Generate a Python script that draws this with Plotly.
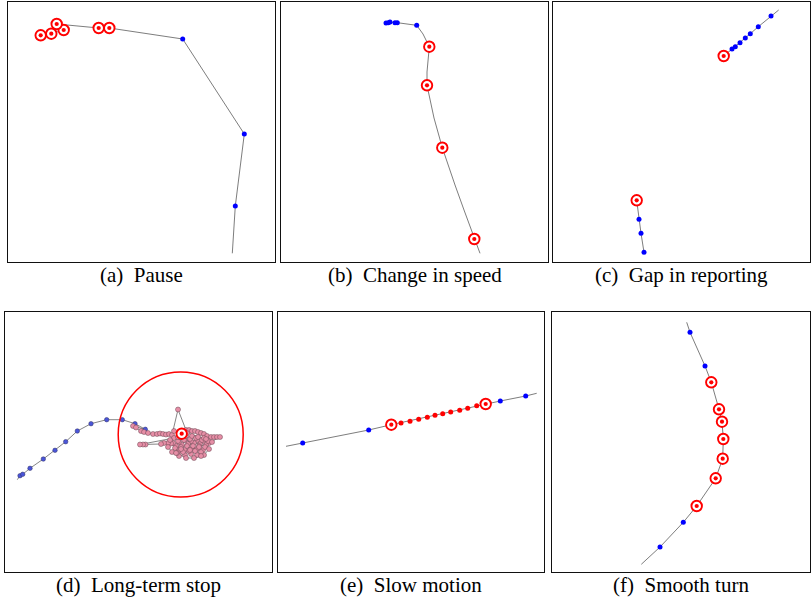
import plotly.graph_objects as go

W, H = 811, 604

# Panel boxes in pixel coordinates: (left, right, top, bottom)
panel_boxes = [
    (8, 275, 2, 262), (281, 548, 2, 262), (553, 809.5, 2, 262),
    (5, 272, 312, 572), (278, 544, 312, 572), (552, 809.5, 312, 572),
]
captions = ["(a)\u00a0 Pause", "(b)\u00a0 Change in speed", "(c)\u00a0 Gap in reporting",
            "(d)\u00a0 Long-term stop", "(e)\u00a0 Slow motion", "(f)\u00a0 Smooth turn"]

# ---- (a) Pause
a_track_x = [40.7, 51.3, 63.7, 56.7, 98.7, 109.3, 182.7, 244.3, 235.3, 232.3]
a_track_y = [35.3, 33.7, 30, 24, 28, 28, 39, 134, 206, 253.3]
a_norm_x = [182.7, 244.3, 235.3]
a_norm_y = [39, 134, 206]
a_anom_x = [40.7, 51.3, 63.7, 56.7, 98.7, 109.3]
a_anom_y = [35.3, 33.7, 30, 24, 28, 28]

# ---- (b) Change in speed
b_track_x = [386, 388.3, 390, 395, 397.3, 416.7, 423, 429.3, 428, 427, 427, 430, 434, 442.3, 448, 455, 464, 474.3, 480]
b_track_y = [23, 22.7, 22, 22.7, 22.7, 25.3, 34, 46.7, 60, 72, 85.3, 100, 118, 147.7, 165, 185, 210, 239, 253.3]
b_norm_x = [386, 388.3, 390, 395, 397.3, 416.7]
b_norm_y = [23, 22.7, 22, 22.7, 22.7, 25.3]
b_anom_x = [429.3, 427, 442.3, 474.3]
b_anom_y = [46.7, 85.3, 147.7, 239]

# ---- (c) Gap in reporting
c_track_x = [778.7, 771, 758.3, 750.3, 745.3, 740, 735.3, 732, 723.7, None, 636.7, 639, 641, 644]
c_track_y = [10, 16, 26.7, 33.7, 38, 42.7, 46.7, 49, 56, None, 200.3, 219.3, 233.3, 252.3]
c_norm_x = [771, 758.3, 750.3, 745.3, 740, 735.3, 732, 639, 641, 644]
c_norm_y = [16, 26.7, 33.7, 38, 42.7, 46.7, 49, 219.3, 233.3, 252.3]
c_anom_x = [723.7, 636.7]
c_anom_y = [56, 200.3]

# ---- (d) Long-term stop
d_norm_x = [20, 22.7, 30, 43.3, 55, 65.7, 77.3, 91, 106.7, 122.3, 135, 145.3]
d_norm_y = [475.7, 474.3, 468.3, 459, 450.3, 441.7, 431, 423.7, 419.7, 419.7, 423.7, 429.3]
d_stop_x = [133, 136, 141, 144, 148, 153, 157, 160, 163, 166, 169, 172, 178, 186, 189, 192, 195,
            198, 201, 204, 207, 211, 214, 217, 220, 209, 206, 203, 200, 197, 194, 191, 188, 185,
            182, 179, 176, 173, 171, 168, 164, 161, 145.5, 143, 140, 174, 178, 180, 184, 186, 190,
            192, 196, 198, 202, 204, 208, 175, 179, 181, 185, 187, 191, 193, 197, 199, 203, 205,
            209, 204, 201, 197, 195, 191, 189, 185, 183, 179, 177, 186, 194, 201, 182, 178, 170,
            168, 172, 176, 181, 190, 199, 212, 206, 187, 174]
d_stop_y = [426, 427.5, 431, 432, 433, 434, 434, 433.5, 434, 434.5, 434, 435, 409.5, 430, 430, 431,
            431, 432, 433, 434, 436, 437, 437, 437, 437, 443, 445, 441, 444, 440, 443, 441, 444, 440,
            445, 442, 446, 443, 443.5, 443, 443, 444, 444.5, 444.5, 444.5, 438, 441, 437, 440, 436,
            439, 436, 438, 437, 440, 438, 441, 448, 451, 447, 450, 446, 449, 446, 449, 446, 450, 447,
            449, 455, 452, 455, 451, 454, 451, 455, 452, 456, 453, 458, 458, 456, 434, 437, 440,
            447, 452, 453, 449, 450, 447, 442, 439, 433, 431]
d_anom_x = [181.7]
d_anom_y = [433.7]
stop_center = (180.7, 434.5)
stop_radius = 62.5

# ---- (e) Slow motion
e_track_x = [286, 302.7, 368.7, 391.3, 485.7, 500.3, 525.7, 536.7]
e_track_y = [446.3, 443, 430, 424.7, 404, 401, 396, 393.3]
e_norm_x = [302.7, 368.7, 500.3, 525.7]
e_norm_y = [443, 430, 401, 396]
e_slow_x = [401, 410, 418.7, 427.3, 435, 442.7, 450.7, 459.7, 467.7, 476.7]
e_slow_y = [423, 421.3, 419.3, 417.3, 415.3, 413.7, 412, 410.3, 408.3, 405.7]
e_anom_x = [391.3, 485.7]
e_anom_y = [424.7, 404]

# ---- (f) Smooth turn
f_track_x = [686.7, 690, 705, 711.3, 719, 722, 723.3, 722.7, 715.7, 696.7, 683.3, 660, 641.3]
f_track_y = [322.3, 332.3, 366, 382.3, 409.3, 421.7, 439, 458.7, 478.3, 506, 522.3, 547, 564.3]
f_norm_x = [690, 705, 683.3, 660]
f_norm_y = [332.3, 366, 522.3, 547]
f_anom_x = [711.3, 719, 722, 723.3, 722.7, 715.7, 696.7]
f_anom_y = [382.3, 409.3, 421.7, 439, 458.7, 478.3, 506]

fig = go.Figure()
LINE = dict(color="#6e6e6e", width=0.9)


def ax(i):
    return ("x" if i == 0 else f"x{i+1}"), ("y" if i == 0 else f"y{i+1}")


def add_line(i, xs, ys, color=LINE["color"], width=LINE["width"]):
    xa, ya = ax(i)
    fig.add_trace(go.Scatter(x=xs, y=ys, mode="lines", line=dict(color=color, width=width),
                             xaxis=xa, yaxis=ya, hoverinfo="skip", connectgaps=False))


def add_dots(i, xs, ys, color="#0000ff", size=5, outline=None, ow=0.5):
    xa, ya = ax(i)
    mk = dict(color=color, size=size)
    if outline:
        mk["line"] = dict(color=outline, width=ow)
    else:
        mk["line"] = dict(width=0)
    fig.add_trace(go.Scatter(x=xs, y=ys, mode="markers", marker=mk, xaxis=xa, yaxis=ya))


def add_bull(i, xs, ys):
    xa, ya = ax(i)
    fig.add_trace(go.Scatter(x=xs, y=ys, mode="markers", xaxis=xa, yaxis=ya,
                             marker=dict(color="white", size=10.5, line=dict(color="#ff0000", width=1.9))))
    fig.add_trace(go.Scatter(x=xs, y=ys, mode="markers", xaxis=xa, yaxis=ya,
                             marker=dict(color="#ff0000", size=4.2, line=dict(width=0))))


# (a)
add_line(0, a_track_x, a_track_y)
add_dots(0, a_norm_x, a_norm_y)
add_bull(0, a_anom_x, a_anom_y)
# (b)
add_line(1, b_track_x, b_track_y)
add_dots(1, b_norm_x, b_norm_y)
add_bull(1, b_anom_x, b_anom_y)
# (c)
add_line(2, c_track_x, c_track_y)
add_dots(2, c_norm_x, c_norm_y)
add_bull(2, c_anom_x, c_anom_y)
# (d)
add_line(3, [17.3] + d_norm_x + d_stop_x, [479.7] + d_norm_y + d_stop_y, color="#666666", width=0.8)
add_dots(3, d_norm_x, d_norm_y, color="#4a55d8", size=4.5, outline="#333366")
add_dots(3, d_stop_x, d_stop_y, color="#e68ea6", size=5, outline="#6a4450", ow=0.5)
add_bull(3, d_anom_x, d_anom_y)
# (e)
add_line(4, e_track_x, e_track_y)
add_dots(4, e_norm_x, e_norm_y)
add_dots(4, e_slow_x, e_slow_y, color="#ff0000", size=5)
add_bull(4, e_anom_x, e_anom_y)
# (f)
add_line(5, f_track_x, f_track_y)
add_dots(5, f_norm_x, f_norm_y)
add_bull(5, f_anom_x, f_anom_y)

layout = dict(width=W, height=H, margin=dict(l=0, r=0, t=0, b=0), showlegend=False,
              plot_bgcolor="white", paper_bgcolor="white")
annotations = []
for i, (l, r, t, b) in enumerate(panel_boxes):
    xk = "xaxis" if i == 0 else f"xaxis{i+1}"
    yk = "yaxis" if i == 0 else f"yaxis{i+1}"
    common = dict(showline=True, mirror=True, linecolor="#111111", linewidth=1.2,
                  showgrid=False, zeroline=False, showticklabels=False, ticks="", fixedrange=True)
    layout[xk] = dict(domain=[l / W, r / W], range=[l, r], anchor=ax(i)[1], **common)
    layout[yk] = dict(domain=[1 - b / H, 1 - t / H], range=[b, t], anchor=ax(i)[0], **common)
    annotations.append(dict(text=captions[i], xref="paper", yref="paper",
                            x=(l + r) / 2 / W, y=1 - (b - 1) / H, xanchor="center", yanchor="top",
                            showarrow=False, font=dict(family="Liberation Serif", size=21, color="black")))
layout["annotations"] = annotations
cx, cy = stop_center
layout["shapes"] = [dict(type="circle", xref="x4", yref="y4",
                         x0=cx - stop_radius, x1=cx + stop_radius,
                         y0=cy - stop_radius, y1=cy + stop_radius,
                         line=dict(color="#ff0000", width=1.5))]
fig.update_layout(**layout)
fig.write_html("out.html")
